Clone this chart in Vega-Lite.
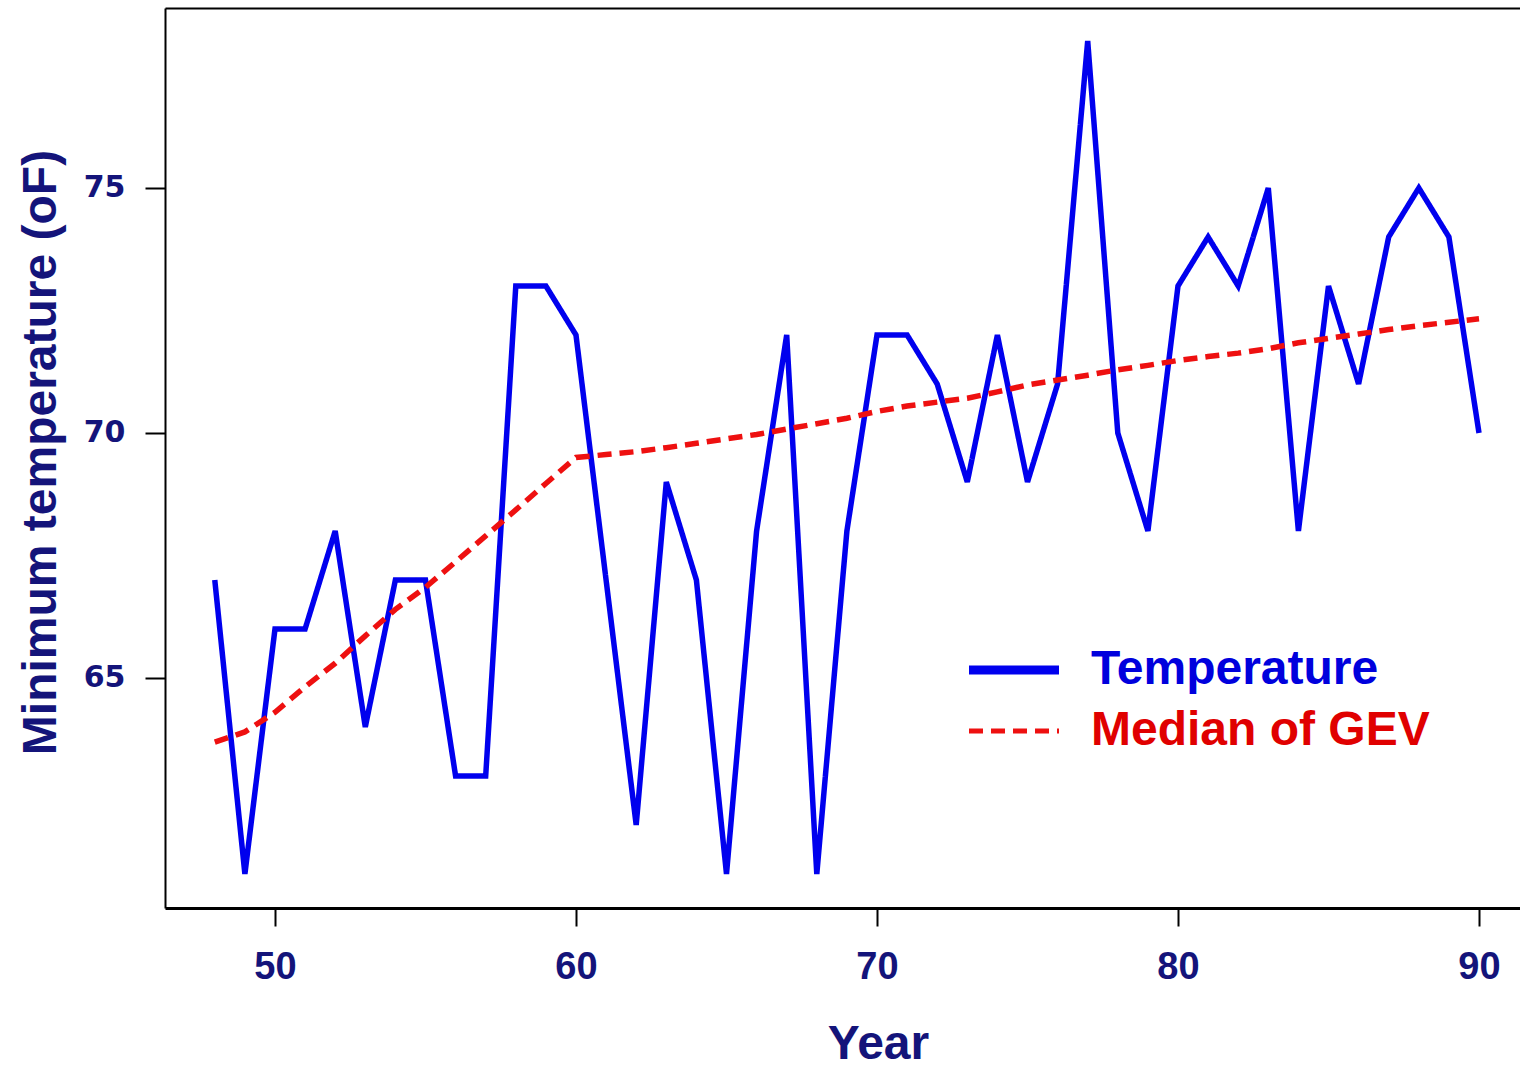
{
  "$schema": "https://vega.github.io/schema/vega-lite/v6.json",
  "width": 1355,
  "height": 900,
  "autosize": {"type": "none"},
  "padding": {"left": 165, "top": 8, "right": 0, "bottom": 159},
  "background": "white",
  "config": {"view": {"stroke": null}, "font": "Liberation Sans"},
  "datasets": {
    "series": [
      {"year": 48, "value": 67, "series": "Temperature"},
      {"year": 49, "value": 61, "series": "Temperature"},
      {"year": 50, "value": 66, "series": "Temperature"},
      {"year": 51, "value": 66, "series": "Temperature"},
      {"year": 52, "value": 68, "series": "Temperature"},
      {"year": 53, "value": 64, "series": "Temperature"},
      {"year": 54, "value": 67, "series": "Temperature"},
      {"year": 55, "value": 67, "series": "Temperature"},
      {"year": 56, "value": 63, "series": "Temperature"},
      {"year": 57, "value": 63, "series": "Temperature"},
      {"year": 58, "value": 73, "series": "Temperature"},
      {"year": 59, "value": 73, "series": "Temperature"},
      {"year": 60, "value": 72, "series": "Temperature"},
      {"year": 61, "value": 67, "series": "Temperature"},
      {"year": 62, "value": 62, "series": "Temperature"},
      {"year": 63, "value": 69, "series": "Temperature"},
      {"year": 64, "value": 67, "series": "Temperature"},
      {"year": 65, "value": 61, "series": "Temperature"},
      {"year": 66, "value": 68, "series": "Temperature"},
      {"year": 67, "value": 72, "series": "Temperature"},
      {"year": 68, "value": 61, "series": "Temperature"},
      {"year": 69, "value": 68, "series": "Temperature"},
      {"year": 70, "value": 72, "series": "Temperature"},
      {"year": 71, "value": 72, "series": "Temperature"},
      {"year": 72, "value": 71, "series": "Temperature"},
      {"year": 73, "value": 69, "series": "Temperature"},
      {"year": 74, "value": 72, "series": "Temperature"},
      {"year": 75, "value": 69, "series": "Temperature"},
      {"year": 76, "value": 71, "series": "Temperature"},
      {"year": 77, "value": 78, "series": "Temperature"},
      {"year": 78, "value": 70, "series": "Temperature"},
      {"year": 79, "value": 68, "series": "Temperature"},
      {"year": 80, "value": 73, "series": "Temperature"},
      {"year": 81, "value": 74, "series": "Temperature"},
      {"year": 82, "value": 73, "series": "Temperature"},
      {"year": 83, "value": 75, "series": "Temperature"},
      {"year": 84, "value": 68, "series": "Temperature"},
      {"year": 85, "value": 73, "series": "Temperature"},
      {"year": 86, "value": 71, "series": "Temperature"},
      {"year": 87, "value": 74, "series": "Temperature"},
      {"year": 88, "value": 75, "series": "Temperature"},
      {"year": 89, "value": 74, "series": "Temperature"},
      {"year": 90, "value": 70, "series": "Temperature"},
      {"year": 48, "value": 63.69, "series": "Median of GEV"},
      {"year": 49, "value": 63.9, "series": "Median of GEV"},
      {"year": 50, "value": 64.3, "series": "Median of GEV"},
      {"year": 51, "value": 64.82, "series": "Median of GEV"},
      {"year": 52, "value": 65.3, "series": "Median of GEV"},
      {"year": 53, "value": 65.86, "series": "Median of GEV"},
      {"year": 54, "value": 66.4, "series": "Median of GEV"},
      {"year": 55, "value": 66.85, "series": "Median of GEV"},
      {"year": 56, "value": 67.37, "series": "Median of GEV"},
      {"year": 57, "value": 67.9, "series": "Median of GEV"},
      {"year": 58, "value": 68.43, "series": "Median of GEV"},
      {"year": 59, "value": 68.97, "series": "Median of GEV"},
      {"year": 60, "value": 69.5, "series": "Median of GEV"},
      {"year": 61, "value": 69.56, "series": "Median of GEV"},
      {"year": 62, "value": 69.62, "series": "Median of GEV"},
      {"year": 63, "value": 69.7, "series": "Median of GEV"},
      {"year": 64, "value": 69.79, "series": "Median of GEV"},
      {"year": 65, "value": 69.88, "series": "Median of GEV"},
      {"year": 66, "value": 69.97, "series": "Median of GEV"},
      {"year": 67, "value": 70.08, "series": "Median of GEV"},
      {"year": 68, "value": 70.19, "series": "Median of GEV"},
      {"year": 69, "value": 70.3, "series": "Median of GEV"},
      {"year": 70, "value": 70.44, "series": "Median of GEV"},
      {"year": 71, "value": 70.55, "series": "Median of GEV"},
      {"year": 72, "value": 70.63, "series": "Median of GEV"},
      {"year": 73, "value": 70.71, "series": "Median of GEV"},
      {"year": 74, "value": 70.84, "series": "Median of GEV"},
      {"year": 75, "value": 70.98, "series": "Median of GEV"},
      {"year": 76, "value": 71.08, "series": "Median of GEV"},
      {"year": 77, "value": 71.18, "series": "Median of GEV"},
      {"year": 78, "value": 71.29, "series": "Median of GEV"},
      {"year": 79, "value": 71.38, "series": "Median of GEV"},
      {"year": 80, "value": 71.48, "series": "Median of GEV"},
      {"year": 81, "value": 71.56, "series": "Median of GEV"},
      {"year": 82, "value": 71.63, "series": "Median of GEV"},
      {"year": 83, "value": 71.72, "series": "Median of GEV"},
      {"year": 84, "value": 71.84, "series": "Median of GEV"},
      {"year": 85, "value": 71.93, "series": "Median of GEV"},
      {"year": 86, "value": 72.02, "series": "Median of GEV"},
      {"year": 87, "value": 72.11, "series": "Median of GEV"},
      {"year": 88, "value": 72.19, "series": "Median of GEV"},
      {"year": 89, "value": 72.26, "series": "Median of GEV"},
      {"year": 90, "value": 72.33, "series": "Median of GEV"}
    ]
  },
  "data": {"name": "series"},
  "resolve": {"axis": {"x": "independent"}},
  "layer": [
    {
      "mark": {"type": "line", "strokeWidth": 5.5, "strokeJoin": "miter", "strokeMiterLimit": 3},
      "encoding": {
        "x": {
          "field": "year", "type": "quantitative",
          "scale": {"domain": [46.346, 91.362], "nice": false, "zero": false},
          "axis": {
            "values": [50, 60, 70, 80, 90],
            "grid": false,
            "domainColor": "black", "domainWidth": 3,
            "tickColor": "black", "tickWidth": 2, "tickSize": 18,
            "labelFont": "Liberation Sans", "labelFontSize": 38, "labelFontWeight": "bold",
            "labelColor": "#14147a", "labelBaseline": "alphabetic", "labelPadding": 52,
            "title": "Year", "titleFont": "Liberation Sans", "titleFontSize": 48, "titleFontWeight": "bold",
            "titleColor": "#14147a", "titleX": 713, "titleY": 150, "titleBaseline": "alphabetic", "titleAlign": "center"
          }
        },
        "y": {
          "field": "value", "type": "quantitative",
          "scale": {"domain": [60.306, 78.673], "nice": false, "zero": false},
          "axis": {
            "values": [65, 70, 75],
            "grid": false,
            "domainColor": "black", "domainWidth": 2,
            "tickColor": "black", "tickWidth": 2, "tickSize": 20,
            "labelFont": "DejaVu Sans", "labelFontSize": 30, "labelFontWeight": "bold",
            "labelColor": "#14147a", "labelPadding": 20,
            "title": "Minimum temperature (oF)", "titleFont": "Liberation Sans", "titleFontSize": 48, "titleFontWeight": "bold",
            "titleColor": "#14147a", "titleAngle": 270, "titleX": -110, "titleY": 444, "titleBaseline": "alphabetic", "titleAlign": "center"
          }
        },
        "color": {
          "field": "series", "type": "nominal",
          "scale": {"domain": ["Temperature", "Median of GEV"], "range": ["#0000ee", "#ee1010"]},
          "legend": {
            "orient": "none", "legendX": 825, "legendY": 638,
            "title": null,
            "symbolType": "stroke", "symbolSize": 8100, "symbolStrokeWidth": 6,
            "labelFont": "Liberation Sans", "labelFontSize": 48, "labelFontWeight": "bold",
            "labelOffset": 53, "rowPadding": 13, "labelLimit": 600,
            "encode": {
              "labels": {"update": {"fill": {"signal": "datum.value === 'Temperature' ? '#0000dd' : '#e00000'"}}},
              "symbols": {"update": {"strokeWidth": {"signal": "datum.value === 'Temperature' ? 9 : 5"}}}
            }
          }
        },
        "strokeDash": {
          "field": "series", "type": "nominal",
          "scale": {"domain": ["Temperature", "Median of GEV"], "range": [[1, 0], [14, 8]]},
          "legend": null
        }
      }
    },
    {
      "mark": {"type": "point", "opacity": 0},
      "encoding": {
        "x": {
          "field": "year", "type": "quantitative",
          "axis": {"orient": "top", "labels": false, "ticks": false, "title": null, "grid": false, "domainColor": "black", "domainWidth": 2}
        },
        "y": {"field": "value", "type": "quantitative"}
      }
    }
  ]
}
